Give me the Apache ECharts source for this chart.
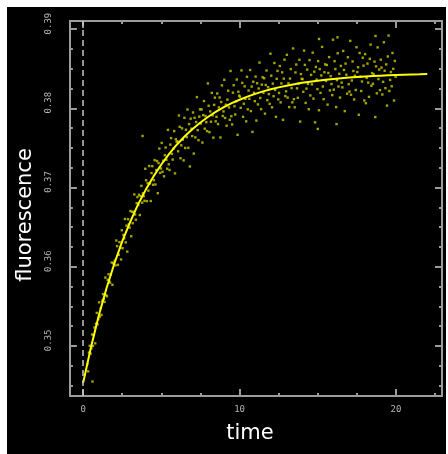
<!DOCTYPE html>
<html><head><meta charset="utf-8">
<script src="https://cdn.jsdelivr.net/npm/echarts@6/dist/echarts.min.js"></script>
<style>html,body{margin:0;padding:0;background:#fff;}#c{position:absolute;left:7px;top:7px;width:439px;height:447px;}</style>
</head><body><div id="c"></div>
<script>
// fitted curve
const fitTime = [0,0.5,1,1.5,2,2.5,3,3.5,4,4.5,5,5.5,6,6.5,7,7.5,8,8.5,9,9.5,10,10.5,11,11.5,12,12.5,13,13.5,14,14.5,15,15.5,16,16.5,17,17.5,18,18.5,19,19.5,20,20.5,21,21.5,22];
const fitValue = [0.3453,0.3498,0.3538,0.3573,0.3604,0.3632,0.3656,0.3678,0.3697,0.3714,0.3729,0.37425,0.37543,0.37647,0.37739,0.37821,0.37893,0.37957,0.38014,0.38064,0.38108,0.38147,0.38182,0.38213,0.3824,0.38264,0.38285,0.38304,0.38321,0.38336,0.38349,0.38361,0.38371,0.3838,0.38388,0.38395,0.38401,0.38407,0.38412,0.38416,0.3842,0.38424,0.38427,0.38429,0.38432];
// measured points (time, fluorescence)
const measured = [
[0.275,0.34770],[0.325,0.34678],[0.375,0.34916],[0.425,0.35001],[0.475,0.34902],[0.6,0.3455],
[0.525,0.34968],[0.575,0.35144],[0.625,0.35000],[0.675,0.35136],[0.725,0.35232],[0.775,0.35032],[0.825,0.35280],[0.875,0.35416],[0.925,0.35272],[0.975,0.35336],
[1.025,0.35550],[1.075,0.35369],[1.125,0.35476],[1.175,0.35391],[1.225,0.35570],[1.275,0.35653],[1.325,0.35592],[1.375,0.35555],[1.425,0.35862],[1.475,0.35641],
[1.525,0.35626],[1.575,0.35833],[1.625,0.35904],[1.675,0.35815],[1.725,0.35798],[1.775,0.35901],[1.825,0.36052],[1.875,0.35771],[1.925,0.36042],[1.975,0.36049],
[2.025,0.36076],[2.075,0.36016],[2.125,0.36330],[2.175,0.36259],[2.225,0.36023],[2.275,0.36150],[2.325,0.36310],[2.375,0.36239],[2.425,0.36091],[2.475,0.36460],
[2.525,0.36233],[2.575,0.36400],[2.625,0.36358],[2.675,0.36602],[2.725,0.36307],[2.775,0.36518],[2.825,0.36190],[2.875,0.36599],[2.925,0.36535],[2.975,0.36493],
[3.025,0.36703],[3.075,0.36384],[3.125,0.36692],[3.175,0.36549],[3.225,0.36692],[3.275,0.36912],[3.325,0.36659],[3.375,0.36593],[3.425,0.36802],[3.475,0.36879],
[3.525,0.36779],[3.575,0.36908],[3.625,0.36652],[3.675,0.36891],[3.725,0.37020],[3.775,0.36808],[3.825,0.36926],[3.875,0.36890],[3.925,0.36832],[3.975,0.37236],[3.8,0.3765],
[4.025,0.37091],[4.075,0.36828],[4.125,0.37055],[4.175,0.36960],[4.225,0.37271],[4.275,0.37050],[4.325,0.36829],[4.375,0.37182],[4.425,0.37269],[4.475,0.37034],
[4.525,0.37092],[4.575,0.37345],[4.625,0.37038],[4.675,0.37220],[4.725,0.37334],[4.775,0.36928],[4.825,0.37308],[4.875,0.37491],[4.925,0.37184],[4.975,0.37240],
[5.025,0.37563],[5.075,0.37198],[5.125,0.37338],[5.175,0.37141],[5.225,0.37407],[5.275,0.37504],[5.325,0.37350],[5.375,0.37237],[5.425,0.37727],[5.475,0.37292],
[5.525,0.37221],[5.575,0.37541],[5.625,0.37623],[5.675,0.37424],[5.725,0.37352],[5.775,0.37490],[5.825,0.37712],[5.875,0.37178],[5.925,0.37609],[5.975,0.37579],
[6.025,0.37582],[6.075,0.37457],[6.125,0.37909],[6.175,0.37766],[6.225,0.37369],[6.275,0.37532],[6.325,0.37747],[6.375,0.37604],[6.425,0.37342],[6.475,0.37880],
[6.525,0.37499],[6.575,0.37729],[6.625,0.37636],[6.675,0.37985],[6.725,0.37501],[6.775,0.37800],[6.825,0.37265],[6.875,0.37869],[6.925,0.37742],[6.975,0.37649],
[7.025,0.37947],[7.075,0.37428],[7.125,0.37879],[7.175,0.37632],[7.225,0.37827],[7.275,0.38141],[7.325,0.37724],[7.375,0.37597],[7.425,0.37894],[7.475,0.37987],
[7.525,0.37808],[7.575,0.37985],[7.625,0.37567],[7.675,0.37914],[7.725,0.38091],[7.775,0.37742],[7.825,0.37902],[7.875,0.37824],[7.925,0.37712],[7.975,0.38314],
[8.025,0.38032],[8.075,0.37699],[8.125,0.37960],[8.175,0.37830],[8.225,0.38194],[8.275,0.37911],[8.325,0.37629],[8.375,0.38043],[8.425,0.38134],[8.475,0.37835],
[8.525,0.37892],[8.575,0.38187],[8.625,0.37801],[8.675,0.38011],[8.725,0.38136],[8.775,0.37631],[8.825,0.38079],[8.875,0.38289],[8.925,0.37903],[8.975,0.37960],
[9.025,0.38359],[9.075,0.37878],[9.125,0.38045],[9.175,0.37780],[9.225,0.38109],[9.275,0.38222],[9.325,0.38011],[9.375,0.37854],[9.425,0.38471],[9.475,0.37900],
[9.525,0.37796],[9.575,0.38197],[9.625,0.38291],[9.675,0.38025],[9.725,0.37922],[9.775,0.38088],[9.825,0.38363],[9.875,0.37665],[9.925,0.38209],[9.975,0.38160],
[10.025,0.38146],[10.075,0.38006],[10.125,0.38478],[10.175,0.38320],[10.225,0.37892],[10.275,0.38057],[10.325,0.38277],[10.375,0.38119],[10.425,0.37835],[10.475,0.38397],
[10.525,0.37987],[10.575,0.38224],[10.625,0.38120],[10.675,0.38483],[10.725,0.37965],[10.775,0.38274],[10.825,0.37702],[10.875,0.38335],[10.925,0.38195],[10.975,0.38090],
[11.025,0.38400],[11.075,0.37845],[11.125,0.38316],[11.175,0.38049],[11.225,0.38250],[11.275,0.38577],[11.325,0.38130],[11.375,0.37989],[11.425,0.38298],[11.475,0.38391],
[11.525,0.38196],[11.575,0.38379],[11.625,0.37932],[11.675,0.38294],[11.725,0.38477],[11.775,0.38102],[11.825,0.38266],[11.875,0.38179],[11.925,0.38056],[11.975,0.38689],
[12.025,0.38412],[12.075,0.38012],[12.125,0.38312],[12.175,0.38152],[12.225,0.38572],[12.275,0.38232],[12.325,0.37892],[12.375,0.38372],[12.425,0.38472],[12.475,0.38112],
[12.525,0.38194],[12.575,0.38534],[12.625,0.38074],[12.675,0.38314],[12.725,0.38454],[12.775,0.37854],[12.825,0.38374],[12.875,0.38614],[12.925,0.38154],[12.975,0.38214],
[13.025,0.38675],[13.075,0.38135],[13.125,0.38315],[13.175,0.38015],[13.225,0.38375],[13.275,0.38495],[13.325,0.38255],[13.375,0.38075],[13.425,0.38755],[13.475,0.38115],
[13.525,0.38012],[13.575,0.38452],[13.625,0.38552],[13.675,0.38252],[13.725,0.38132],[13.775,0.38312],[13.825,0.38612],[13.875,0.37832],[13.925,0.38432],[13.975,0.38372],
[14.025,0.38368],[14.075,0.38208],[14.125,0.38728],[14.175,0.38548],[14.225,0.38068],[14.275,0.38248],[14.325,0.38488],[14.375,0.38308],[14.425,0.37988],[14.475,0.38608],
[14.525,0.38162],[14.575,0.38422],[14.625,0.38302],[14.675,0.38702],[14.725,0.38122],[14.775,0.38462],[14.825,0.37822],[14.875,0.38522],[14.925,0.38362],[14.975,0.38242],
[15.025,0.38595],[15.075,0.37975],[15.125,0.38495],[15.175,0.38195],[15.225,0.38415],[15.275,0.38775],[15.325,0.38275],[15.375,0.38115],[15.425,0.38455],[15.475,0.38555],
[15.525,0.38346],[15.575,0.38546],[15.625,0.38046],[15.675,0.38446],[15.725,0.38646],[15.775,0.38226],[15.825,0.38406],[15.875,0.38306],[15.925,0.38166],[15.975,0.38866],
[16.025,0.38235],[16.075,0.38595],[16.125,0.38495],[16.175,0.38015],[16.225,0.38355],[16.275,0.38695],[16.325,0.38275],[16.375,0.38435],[16.425,0.38135],[16.475,0.38535],
[16.525,0.38324],[16.575,0.38264],[16.625,0.38724],[16.675,0.38484],[16.725,0.37964],[16.775,0.38564],[16.825,0.38424],[16.875,0.38184],[16.925,0.38644],[16.975,0.38304],
[17.025,0.38211],[17.075,0.38851],[17.125,0.38171],[17.175,0.38351],[17.225,0.38591],[17.275,0.38471],[17.325,0.38111],[17.375,0.38411],[17.425,0.38231],[17.475,0.38771],
[17.525,0.38458],[17.575,0.38518],[17.625,0.37918],[17.675,0.38698],[17.725,0.38398],[17.775,0.38218],[17.825,0.38338],[17.875,0.38638],[17.925,0.38538],[17.975,0.38098],
[18.025,0.38684],[18.075,0.38064],[18.125,0.38384],[18.175,0.38564],[18.225,0.38324],[18.275,0.38144],[18.325,0.38624],[18.375,0.38804],[18.425,0.38284],[18.475,0.38444],
[18.525,0.38309],[18.575,0.38429],[18.625,0.38589],[18.675,0.37889],[18.725,0.38529],[18.775,0.38189],[18.825,0.38769],[18.875,0.38369],[18.925,0.38489],[18.975,0.38229],
[19.025,0.38614],[19.075,0.38514],[19.125,0.38174],[19.175,0.38334],[19.225,0.38834],[19.275,0.38474],[19.325,0.38254],[19.375,0.38554],[19.425,0.38034],[19.475,0.38654],
[19.525,0.38918],[19.575,0.38218],[19.625,0.38358],[19.675,0.38458],[19.725,0.38278],[19.775,0.38698],[19.825,0.38498],[19.875,0.38098],[19.925,0.38598],[19.975,0.38398],
[15.08,0.38875],[16.26,0.38896],[18.69,0.38913],[15.0,0.37739],[16.2,0.378]
];
const xMajorTicks = [0, 10, 20];
const xMinorTicks = [2.5, 5, 7.5, 12.5, 15, 17.5, 22.5];
const yMajorTicks = [0.35, 0.36, 0.37, 0.38, 0.39];
const yMinorTicks = [0.345, 0.3475, 0.3525, 0.355, 0.3575, 0.3625, 0.365, 0.3675, 0.3725, 0.375, 0.3775, 0.3825, 0.385, 0.3875];
const xName = 'time';
const yName = 'fluorescence';
const markerTime = 0;

const X_MIN = -0.843, X_MAX = 22.94, Y_MIN = 0.34367, Y_MAX = 0.39102;
const frame = '#9c9c9c';
const tickFont = {color: '#b4b4b4', fontSize: 9, fontFamily: 'DejaVu Sans Mono'};

function xa(pos, ticks, len, labels, extra) {
  return Object.assign({
    type: 'value', position: pos, min: X_MIN, max: X_MAX,
    axisLine: {show: true, onZero: false, lineStyle: {color: frame, width: 2}},
    axisTick: {show: true, inside: true, length: len, customValues: ticks, lineStyle: {color: frame, width: 2}},
    axisLabel: labels ? Object.assign({show: true, customValues: ticks, margin: 9, formatter: v => String(Math.round(v))}, tickFont) : {show: false},
    splitLine: {show: false}
  }, extra || {});
}
function ya(pos, ticks, len, labels, extra) {
  return Object.assign({
    type: 'value', position: pos, min: Y_MIN, max: Y_MAX,
    axisLine: {show: true, onZero: false, lineStyle: {color: frame, width: 2}},
    axisTick: {show: true, inside: true, length: len, customValues: ticks, lineStyle: {color: frame, width: 2}},
    axisLabel: labels ? Object.assign({show: true, customValues: ticks, rotate: 90, margin: 17, padding: [0, 0, 0, 11], formatter: v => v.toFixed(2)}, tickFont) : {show: false},
    splitLine: {show: false}
  }, extra || {});
}

const chart = echarts.init(document.getElementById('c'), null, {renderer: 'canvas'});
chart.setOption({
  backgroundColor: '#000',
  animation: false,
  grid: {left: 60, top: 14, width: 375, height: 375, containLabel: false},
  xAxis: [
    xa('bottom', xMajorTicks, 7, true, {name: xName, nameLocation: 'middle', nameGap: 27,
      nameTextStyle: {color: '#fff', fontSize: 21, fontFamily: 'DejaVu Sans', padding: [0, 12, 0, 0]}}),
    xa('bottom', xMinorTicks, 3, false),
    xa('top', xMajorTicks, 7, false),
    xa('top', xMinorTicks, 3, false)
  ],
  yAxis: [
    ya('left', yMajorTicks, 7, true, {name: yName, nameLocation: 'middle', nameGap: 30,
      nameTextStyle: {color: '#fff', fontSize: 21, fontFamily: 'DejaVu Sans', padding: [0, 13, 0, 0]}}),
    ya('left', yMinorTicks, 3, false),
    ya('right', yMajorTicks, 7, false),
    ya('right', yMinorTicks, 3, false)
  ],
  series: [
    {type: 'scatter', xAxisIndex: 0, yAxisIndex: 0, data: measured, symbol: 'rect', symbolSize: 2.4,
      itemStyle: {color: '#cccc00'}, silent: true},
    {type: 'line', xAxisIndex: 0, yAxisIndex: 0, data: fitTime.map((t, i) => [t, fitValue[i]]),
      showSymbol: false, smooth: false, lineStyle: {color: '#ffff00', width: 2}, silent: true,
      markLine: {silent: true, symbol: ['none', 'none'], label: {show: false},
        lineStyle: {color: '#c8c8c8', width: 1.5, type: [6, 4]},
        data: [{xAxis: markerTime}]}}
  ]
});
</script></body></html>
